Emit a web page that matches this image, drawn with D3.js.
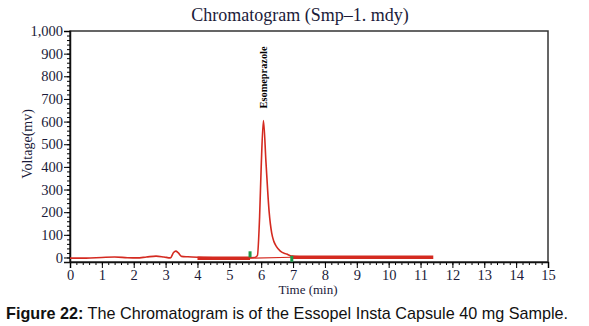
<!DOCTYPE html>
<html>
<head>
<meta charset="utf-8">
<script src="https://cdn.jsdelivr.net/npm/d3@7"></script>
<style>
  body { margin: 0; background: #fff; }
  svg text { font-family: "Liberation Serif", "DejaVu Serif", serif; }
</style>
</head>
<body>
<div id="chart"></div>
<script>
// signal trace (min, mV)
const times    = [0, 0.5, 1.0, 1.4, 1.8, 2.1, 2.4, 2.7, 2.95, 3.15, 3.25, 3.32, 3.4, 3.5, 3.7, 4.0, 4.5, 5.0, 5.5, 5.8, 5.88, 5.95, 6.0, 6.07, 6.15, 6.25, 6.33, 6.4, 6.48, 6.6, 6.8, 6.96, 7.2];
const voltages = [-3, -3, 0, 2, -1, -2, 2, 6, 2, -2, 22, 28, 20, 5, 3, 1, -1, -1, -1, 0, 8, 180, 400, 605, 420, 200, 107, 70, 48, 28, 15, 6, 3];
// integration baseline segments
const baseStart = [4.0, 6.96];
const baseEnd   = [5.65, 11.4];
const baseLevel = [-3, 1];
// peak markers
const markTimes  = [5.65, 6.96];
const markLevels = [14, -6];
const peakName = "Esomeprazole", peakTime = 6.07, peakTop = 605;
const xTicks = d3.range(0, 16);
const yTicks = d3.range(0, 1001, 100);

(() => {
    const width = 589, height = 326, margin = { top: 31, right: 41, bottom: 64, left: 70 };
    const w = width - margin.left - margin.right, h = height - margin.top - margin.bottom;

    const svg = d3.select("#chart").append("svg")
        .attr("width", width).attr("height", height);

    const x = d3.scaleLinear().domain([0, 15]).range([0, w]);
    const y = d3.scaleLinear().domain([-20, 1000]).range([h, 0]);

    const chart = svg.append("g").attr("transform", `translate(${margin.left},${margin.top})`);

    // frame
    chart.append("rect").attr("width", w).attr("height", h)
        .attr("fill", "none").attr("stroke", "#333").attr("stroke-width", 1.5);

    // minor ticks
    chart.append("g").attr("transform", `translate(0,${h})`)
        .call(d3.axisBottom(x).tickValues(d3.range(0, 15.01, 0.2)).tickSize(3).tickFormat(""))
        .call(g => g.select(".domain").remove());
    chart.append("g")
        .call(d3.axisLeft(y).tickValues(d3.range(0, 1001, 20)).tickSize(3).tickFormat(""))
        .call(g => g.select(".domain").remove());

    // major axes
    chart.append("g").attr("transform", `translate(0,${h})`)
        .call(d3.axisBottom(x).tickValues(xTicks).tickSize(6).tickPadding(2).tickFormat(d3.format("d")))
        .call(g => g.select(".domain").attr("stroke", "#111").attr("stroke-width", 1.5))
        .selectAll("text").style("font-size", "14.5px").attr("fill", "#1b1b3a");
    chart.append("g")
        .call(d3.axisLeft(y).tickValues(yTicks).tickSize(6).tickPadding(1).tickFormat(d3.format(",")))
        .call(g => g.select(".domain").attr("stroke", "#111").attr("stroke-width", 1.5))
        .selectAll("text").style("font-size", "14.5px").attr("fill", "#1b1b3a");

    // baselines
    chart.selectAll(".base")
        .data(baseStart.map((s, i) => ({ s, e: baseEnd[i], v: baseLevel[i] })))
        .enter().append("line")
        .attr("x1", d => x(d.s)).attr("x2", d => x(d.e))
        .attr("y1", d => y(d.v)).attr("y2", d => y(d.v))
        .attr("stroke", "#d42a20").attr("stroke-width", 3.5);

    // baseline under peak
    chart.append("line")
        .attr("x1", x(markTimes[0])).attr("x2", x(markTimes[1]))
        .attr("y1", y(-3)).attr("y2", y(1))
        .attr("stroke", "#d42a20").attr("stroke-width", 1.2);

    // signal
    const line = d3.line().x((d, i) => x(times[i])).y(d => y(d)).curve(d3.curveMonotoneX);
    chart.append("path").datum(voltages)
        .attr("d", line)
        .attr("fill", "none").attr("stroke", "#d42a20").attr("stroke-width", 1.6);

    // markers
    chart.selectAll(".mark")
        .data(markTimes.map((t, i) => ({ t, v: markLevels[i] })))
        .enter().append("rect")
        .attr("x", d => x(d.t) - 1.5).attr("y", d => y(d.v) - 3)
        .attr("width", 3).attr("height", 6)
        .attr("fill", "#1f9a4a");

    // peak label
    chart.append("text")
        .attr("transform", `translate(${x(peakTime) + 4},${y(peakTop) - 12}) rotate(-90)`)
        .attr("text-anchor", "start")
        .style("font-size", "11px").style("font-weight", "bold")
        .attr("textLength", 62).attr("lengthAdjust", "spacingAndGlyphs")
        .text(peakName);

    // titles
    svg.append("text").attr("x", 300).attr("y", 21).attr("text-anchor", "middle")
        .style("font-size", "18px").attr("fill", "#1b1b3a")
        .text("Chromatogram (Smp\u20131. mdy)");
    svg.append("text").attr("x", 308).attr("y", 294).attr("text-anchor", "middle")
        .style("font-size", "13px").attr("fill", "#1b1b3a")
        .text("Time (min)");
    svg.append("text").attr("transform", "translate(32,144) rotate(-90)").attr("text-anchor", "middle")
        .style("font-size", "14px").attr("fill", "#1b1b3a")
        .text("Voltage(mv)");

    // caption
    const cap = svg.append("text").attr("x", 6).attr("y", 319)
        .style("font-family", "'Liberation Sans', Arial, sans-serif").style("font-size", "16.2px").attr("fill", "#111");
    cap.append("tspan").style("font-weight", "bold").text("Figure 22:");
    cap.append("tspan").text(" The Chromatogram is of the Essopel Insta Capsule 40 mg Sample.");
})();
</script>
</body>
</html>
